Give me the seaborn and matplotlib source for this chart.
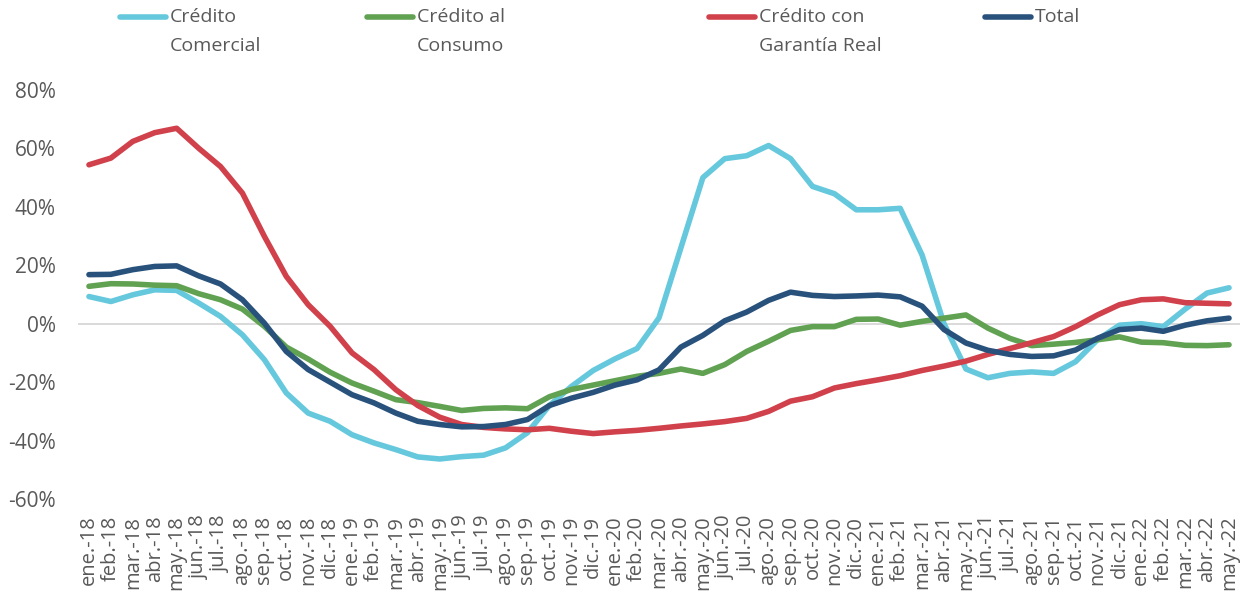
import numpy as np
import pandas as pd
import matplotlib
matplotlib.use("Agg")
import matplotlib.pyplot as plt
from matplotlib.lines import Line2D
import seaborn as sns

# Monthly labels (ene.-18 .. may.-22)
MONTHS = [
    'ene.-18', 'feb.-18', 'mar.-18', 'abr.-18', 'may.-18', 'jun.-18', 'jul.-18', 'ago.-18',
    'sep.-18', 'oct.-18', 'nov.-18', 'dic.-18',
    'ene.-19', 'feb.-19', 'mar.-19', 'abr.-19', 'may.-19', 'jun.-19', 'jul.-19', 'ago.-19',
    'sep.-19', 'oct.-19', 'nov.-19', 'dic.-19',
    'ene.-20', 'feb.-20', 'mar.-20', 'abr.-20', 'may.-20', 'jun.-20', 'jul.-20', 'ago.-20',
    'sep.-20', 'oct.-20', 'nov.-20', 'dic.-20',
    'ene.-21', 'feb.-21', 'mar.-21', 'abr.-21', 'may.-21', 'jun.-21', 'jul.-21', 'ago.-21',
    'sep.-21', 'oct.-21', 'nov.-21', 'dic.-21',
    'ene.-22', 'feb.-22', 'mar.-22', 'abr.-22', 'may.-22',
]

# Variación anual (%)
comercial = [9.3, 7.6, 9.9, 11.6, 11.4, 7.1, 2.5, -3.8, -12.3, -23.7, -30.6, -33.4,
             -38.0, -40.8, -43.1, -45.6, -46.3, -45.5, -45.0, -42.5, -37.3, -28.0, -21.5, -16.0,
             -12.0, -8.5, 2.0, 26.0, 50.0, 56.5, 57.5, 61.0, 56.5, 47.0, 44.5, 39.0,
             39.0, 39.5, 23.5, 0.0, -15.5, -18.5, -17.0, -16.5, -17.0, -13.0, -5.5, -0.5,
             0.0, -1.0, 5.0, 10.5, 12.3]
consumo = [12.8, 13.7, 13.6, 13.2, 13.0, 10.3, 8.2, 5.0, -0.9, -8.0, -12.1, -16.6,
           -20.3, -23.1, -26.0, -27.0, -28.3, -29.7, -29.0, -28.8, -29.1, -25.0, -22.5, -21.0,
           -19.5, -18.0, -17.0, -15.5, -17.0, -14.0, -9.5, -6.0, -2.3, -1.0, -1.0, 1.5,
           1.6, -0.5, 0.8, 1.9, 3.0, -1.5, -5.0, -7.5, -7.0, -6.4, -5.5, -4.5,
           -6.3, -6.5, -7.4, -7.5, -7.2]
garantia = [54.4, 56.7, 62.4, 65.4, 66.9, 60.1, 53.8, 44.7, 29.9, 16.2, 6.5, -0.9,
            -10.0, -15.7, -22.6, -28.0, -32.0, -34.5, -35.5, -36.0, -36.3, -35.8, -36.8, -37.6,
            -37.0, -36.5, -35.8, -35.0, -34.3, -33.5, -32.4, -30.0, -26.5, -25.0, -22.0, -20.5,
            -19.2, -17.8, -16.0, -14.5, -12.8, -10.5, -8.5, -6.5, -4.4, -1.0, 3.0, 6.5,
            8.2, 8.5, 7.2, 7.0, 6.8]
total = [16.8, 16.9, 18.5, 19.6, 19.8, 16.4, 13.6, 8.2, 0.2, -9.5, -15.7, -20.0,
         -24.3, -27.1, -30.6, -33.4, -34.5, -35.3, -35.2, -34.5, -32.8, -28.0, -25.5, -23.5,
         -21.0, -19.2, -15.8, -8.0, -4.0, 1.0, 4.0, 8.0, 10.8, 9.7, 9.3, 9.5,
         9.8, 9.2, 6.0, -2.0, -6.6, -9.1, -10.5, -11.2, -11.0, -9.0, -5.0, -2.0,
         -1.5, -2.6, -0.5, 1.0, 1.9]

SERIES = ['Crédito\nComercial', 'Crédito al\nConsumo', 'Crédito con\nGarantía Real', 'Total']
COLORS = ['#66C8DC', '#61A152', '#D0414B', '#28527C']
TEXT = '#595959'

df = pd.DataFrame({
    'idx': np.tile(np.arange(len(MONTHS)), 4),
    'valor': comercial + consumo + garantia + total,
    'serie': np.repeat(SERIES, len(MONTHS)),
})

sns.set_theme(style='white')
plt.rcParams['font.family'] = ['Open Sans', 'DejaVu Sans']
plt.rcParams['axes.unicode_minus'] = False

fig = plt.figure(figsize=(12.4, 5.94), dpi=100)
ax = fig.add_axes([78 / 1240, 1 - 499 / 594, 1162 / 1240, 409 / 594])

ax.axhline(0, color='#d9d9d9', lw=1.4, zorder=1)
sns.lineplot(data=df, x='idx', y='valor', hue='serie', hue_order=SERIES,
             palette=COLORS, linewidth=4.0, legend=False, ax=ax, zorder=3)
for ln in ax.get_lines()[1:]:
    ln.set_solid_joinstyle('round')
    ln.set_solid_capstyle('round')

ax.set_xlim(-0.5, len(MONTHS) - 0.5)
ax.set_ylim(-60, 80)
ax.set_yticks(range(-60, 81, 20))
ax.set_yticklabels([f'{v}%' for v in range(-60, 81, 20)])
ax.set_xticks(range(len(MONTHS)))
ax.set_xticklabels(MONTHS, rotation=90)
ax.tick_params(axis='y', labelsize=15, labelcolor=TEXT, length=0, pad=16)
ax.tick_params(axis='x', labelsize=14.5, labelcolor=TEXT, length=0, pad=12)
ax.set_xlabel('')
ax.set_ylabel('')
sns.despine(ax=ax, left=True, bottom=True)

# legend at top, handle aligned with the first text line
W, H = 1240, 594
handle_x = [120, 367, 709, 985]
for name, color, hx in zip(SERIES, COLORS, handle_x):
    fig.add_artist(Line2D([hx / W, (hx + 46) / W], [1 - 17 / H, 1 - 17 / H],
                          color=color, lw=4.0, solid_capstyle='round',
                          transform=fig.transFigure))
    for k, part in enumerate(name.split('\n')):
        fig.text((hx + 50) / W, 1 - (17 + 29 * k) / H, part, fontsize=14,
                 color=TEXT, ha='left', va='center')

fig.savefig('out.png', dpi=100)
